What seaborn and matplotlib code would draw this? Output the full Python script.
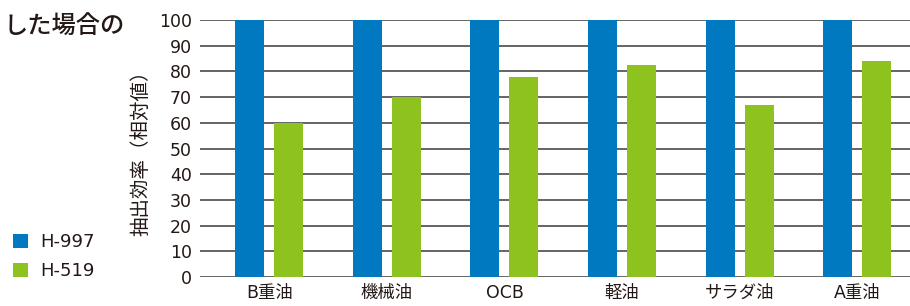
import pandas as pd
import matplotlib
matplotlib.use("Agg")
import matplotlib.pyplot as plt
import seaborn as sns
from matplotlib.patches import Patch

# ---------------- Data ----------------
categories = ["B重油", "機械油", "OCB", "軽油", "サラダ油", "A重油"]
h997 = [100, 100, 100, 100, 100, 100]
h519 = [60, 70, 77.7, 82.3, 67.1, 83.9]
series = ["H-997", "H-519"]
colors = ["#0079C1", "#8DC21F"]

df = pd.DataFrame({
    "Category": categories * 2,
    "Value": h997 + h519,
    "Series": [series[0]] * len(categories) + [series[1]] * len(categories),
})

sns.set_style("white")
plt.rcParams["font.family"] = ["DejaVu Sans", "Noto Sans CJK JP"]
txt = "#231815"

fig = plt.figure(figsize=(9.1, 3.06), dpi=100)
ax = fig.add_axes([200 / 910, 1 - 277 / 306, 1 - 200 / 910, 257 / 306])

sns.barplot(data=df, x="Category", y="Value", hue="Series", palette=colors,
            width=0.663, gap=0.256, saturation=1, linewidth=0, ax=ax,
            legend=False, zorder=3)

ax.set_ylim(0, 100)
ax.set_xlim(-0.59, 5.45)
ax.set_yticks(range(0, 101, 10))
ax.yaxis.grid(True, color="#3a3a3a", linewidth=1.1, zorder=0)
ax.set_axisbelow(True)
for s in ax.spines.values():
    s.set_visible(False)
ax.tick_params(axis="both", length=0, labelsize=12.5, colors=txt)
ax.tick_params(axis="y", pad=6)
ax.tick_params(axis="x", pad=5)
ax.set_xlabel("")
ax.set_ylabel("抽出効率（相対値）", fontsize=14, color=txt, labelpad=5,
              family=["Noto Sans CJK JP"])

# legend squares on the left
handles = [Patch(facecolor=c, edgecolor="none") for c in colors]
fig.legend(handles, series, loc="upper left", bbox_to_anchor=(-3 / 910, 1 - 217 / 306),
           frameon=False, fontsize=13, handlelength=0.8, handleheight=0.8,
           handletextpad=0.7, labelspacing=0.62, labelcolor=txt)

# title fragment (the reference shows only its tail)
fig.text(125 / 910, 1 - 26 / 306, "した場合の", fontsize=17.5, ha="right",
         va="center", color=txt, family=["Noto Sans CJK JP"], weight="medium")

fig.savefig("out.png", dpi=100)
